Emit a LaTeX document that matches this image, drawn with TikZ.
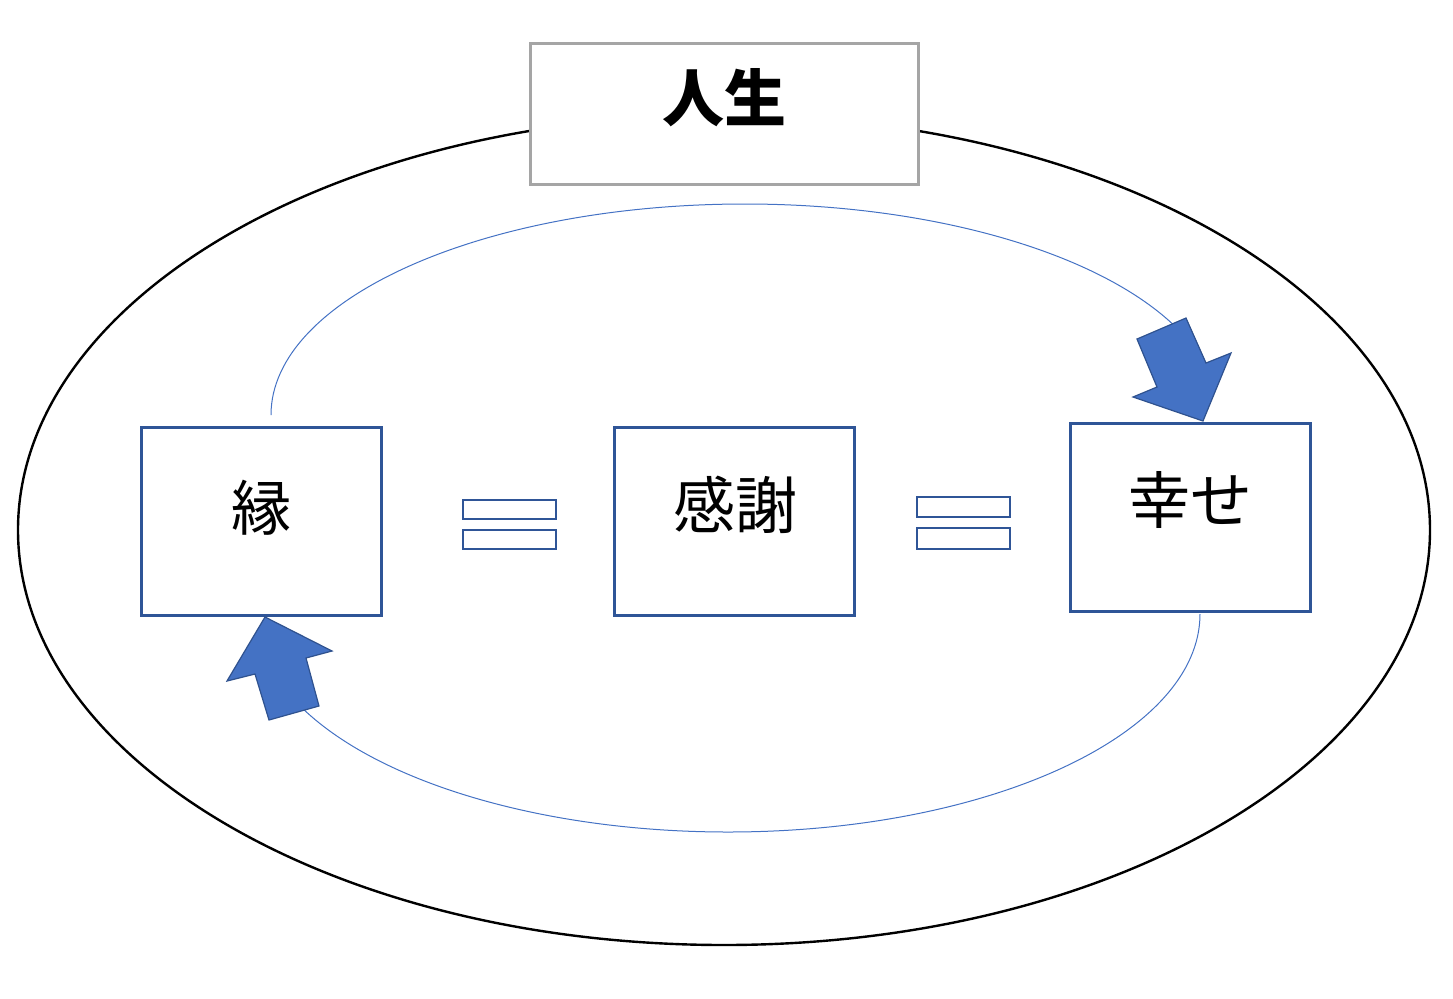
\documentclass[tikz,border=0pt]{standalone}
\usepackage{fontspec}
\newfontfamily\cjk{Noto Sans CJK JP}
\definecolor{boxblue}{HTML}{2F5597}
\definecolor{fillblue}{HTML}{4472C4}
\definecolor{edgeblue}{HTML}{2F528F}
\definecolor{titlegray}{HTML}{A5A5A5}
\begin{document}
\begin{tikzpicture}[x=0.5pt,y=-0.5pt,
  conceptbox/.style={draw=boxblue,line width=1.5pt,fill=white,minimum width=120pt,minimum height=94pt,inner sep=0pt},
  label/.style={font=\cjk\fontsize{31}{31}\selectfont},
  eqbar/.style={draw=boxblue,line width=1.3pt,fill=white},
  cyclearc/.style={draw=fillblue,line width=0.5pt},
  blockarrow/.style={fill=fillblue,draw=edgeblue,line width=0.6pt,line join=miter}]
\useasboundingbox (0,0) rectangle (1453,998);
% life ellipse
\draw[line width=1.2pt] (724,530) ellipse [x radius=706, y radius=415];
% title
\node[draw=titlegray,line width=1.5pt,fill=white,minimum width=194pt,minimum height=70.5pt,inner sep=0pt] (life) at (724,113.5) {};
\node[font=\cjk\bfseries\fontsize{31}{31}\selectfont] (lifetext) at (724,98) {人生};
% cycle arcs
\coordinate (upstart) at (271,415);
\coordinate (downstart) at (1200,614);
\draw[cyclearc] (upstart) arc[start angle=180, end angle=334.6, x radius=474, y radius=211];
\draw[cyclearc] (downstart) arc[start angle=0, end angle=155.2, x radius=472, y radius=218];
% concept boxes
\node[conceptbox] (en) at (261,521) {};
\node[label,font=\cjk\fontsize{30}{30}\selectfont] (entext) at (261,508) {縁};
\node[conceptbox] (kansha) at (734,521) {};
\node[label] (kanshatext) at (735,505) {感謝};
\node[conceptbox] (shiawase) at (1190.5,517.5) {};
\node[label] (shiawasetext) at (1190,500) {幸せ};
% equals signs
\draw[eqbar] (463,500) rectangle (556,519);
\draw[eqbar] (463,530) rectangle (556,549);
\draw[eqbar] (917,497) rectangle (1010,517);
\draw[eqbar] (917,528) rectangle (1010,549);
% block arrows
\draw[blockarrow] (1137,339) -- (1186,318) -- (1206,363) -- (1231,353) -- (1203,421) -- (1133,397) -- (1157,387) -- cycle;
\draw[blockarrow] (269,720) -- (319,706) -- (306,658) -- (332,651) -- (265,617) -- (227,681) -- (255,674) -- cycle;
\end{tikzpicture}
\end{document}
